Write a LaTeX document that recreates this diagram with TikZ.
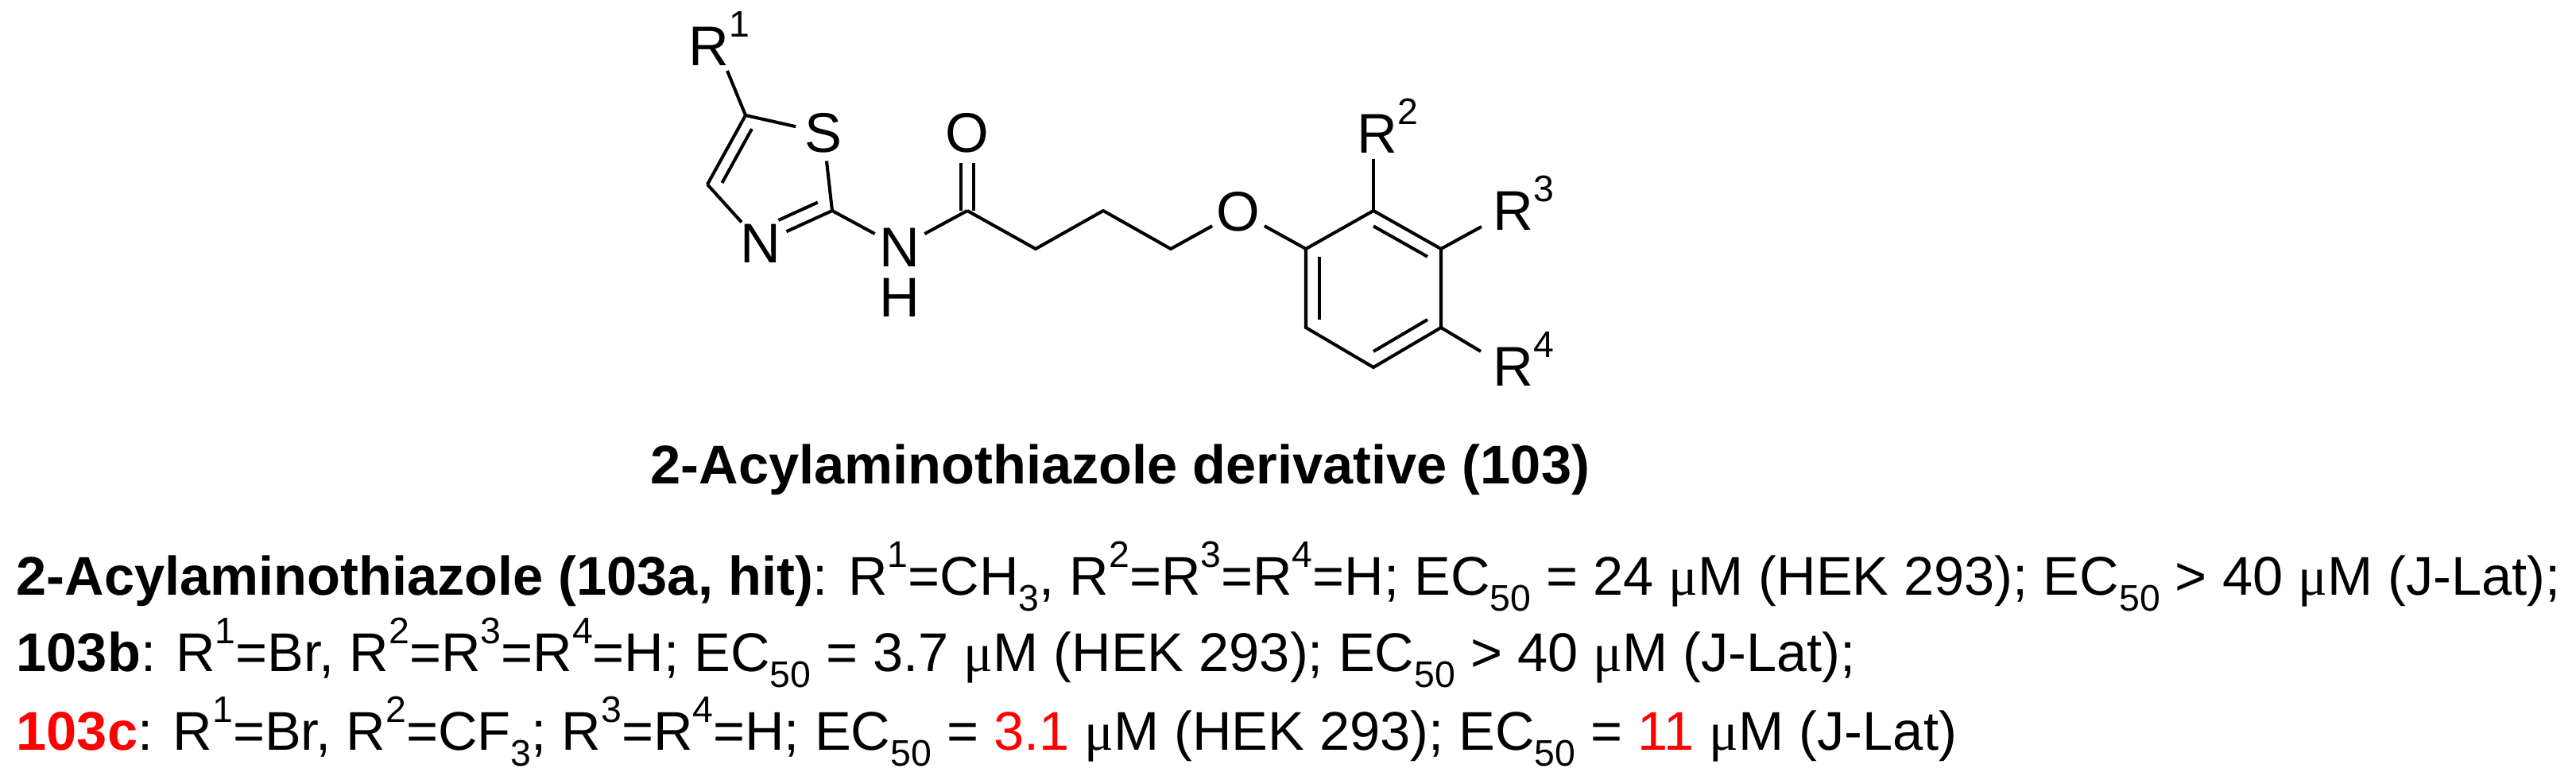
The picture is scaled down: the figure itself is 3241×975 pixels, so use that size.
\documentclass[tikz,border=0pt]{standalone}
\usepackage{fontspec}
\setmainfont{Liberation Sans}
\newfontfamily\mufont{Liberation Serif}
\usetikzlibrary{calc}
\newcommand\sps[1]{\raisebox{0.5em}{\fontsize{13.2}{13.2}\selectfont #1}}
\newcommand\sbs[1]{\raisebox{-0.3em}{\fontsize{13.2}{13.2}\selectfont #1}}
\newcommand\um{{\mufont μ}M}
\begin{document}
\begin{tikzpicture}[x=0.01cm,y=-0.01cm,
  bond/.style={line width=1.15pt,line cap=butt},
  atom/.style={circle,inner sep=0pt,minimum size=0.70cm,font=\fontsize{20}{23}\selectfont},
  rlab/.style={anchor=base west,inner sep=0pt,font=\fontsize{20}{23}\selectfont},
  txt/.style={anchor=base west,inner sep=0pt,font=\fontsize{19.5}{23}\selectfont}]
\useasboundingbox (0,0) rectangle (3241,975);
% thiazole
\coordinate (c5) at (938,145);
\coordinate (c4) at (890,232);
\coordinate (c2) at (1047,265);
\node[atom] (s) at (1036,167) {S};
\node[atom] (n3) at (957,306) {N};
\coordinate (tc) at (974,223);
\node[rlab] (r1) at (866,82) {R\sps{1}};
\coordinate (r1b) at (915,89);
\draw[bond] (c5) -- (r1b);
\draw[bond] (c5) -- (s);
\draw[bond] (s) -- (c2);
\draw[bond] (c2) -- (n3);
\draw[bond] (n3) -- (c4);
\draw[bond] (c4) -- (c5);
\draw[bond] ($(c4)!0.22!(tc)$) -- ($(c5)!0.22!(tc)$);
\draw[bond,shorten >=0.2cm] ($(c2)!0.25!(tc)$) -- ($(n3)!0.25!(tc)$);
% amide
\node[atom,minimum size=0.6cm] (nh) at (1132,311) {N};
\node[inner sep=0pt,font=\fontsize{20}{23}\selectfont] (h) at (1132,374) {H};
\coordinate (co) at (1217,265);
\node[atom] (o1) at (1217,167) {O};
\draw[bond] (c2) -- (nh);
\draw[bond] (nh) -- (co);
\draw[bond] ($(co)+(-8,0)$) -- ($(o1.south)+(-8,0)$);
\draw[bond] ($(co)+(8,0)$) -- ($(o1.south)+(8,0)$);
% chain
\coordinate (ca) at (1303,313);
\coordinate (cb) at (1388,265);
\coordinate (cc) at (1473,313);
\node[atom] (o2) at (1558,266) {O};
\draw[bond] (co) -- (ca) -- (cb) -- (cc) -- (o2);
% benzene
\coordinate (b1) at (1643,313);
\coordinate (b2) at (1728,265);
\coordinate (b3) at (1813,313);
\coordinate (b4) at (1813,412);
\coordinate (b5) at (1728,462);
\coordinate (b6) at (1643,412);
\coordinate (bc) at (1728,362);
\draw[bond] (o2) -- (b1);
\draw[bond,line join=miter] (b1) -- (b2) -- (b3) -- (b4) -- (b5) -- (b6) -- cycle;
\draw[bond] ($(b2)!0.2!(bc)$) -- ($(b3)!0.2!(bc)$);
\draw[bond] ($(b4)!0.2!(bc)$) -- ($(b5)!0.2!(bc)$);
\draw[bond] ($(b6)!0.2!(bc)$) -- ($(b1)!0.2!(bc)$);
\node[rlab] (r2) at (1707,192) {R\sps{2}};
\node[rlab] (r3) at (1878,289) {R\sps{3}};
\node[rlab] (r4) at (1878,485) {R\sps{4}};
\coordinate (r2b) at (1728,200);
\coordinate (r3b) at (1864,285);
\coordinate (r4b) at (1863,442);
\draw[bond] (b2) -- (r2b);
\draw[bond] (b3) -- (r3b);
\draw[bond] (b4) -- (r4b);
% texts
\node[txt] (title) at (818,608) {\textbf{2-Acylaminothiazole derivative (103)}};
\node[txt] (l1) at (20,748) {\textbf{2-Acylaminothiazole (103a, hit)}: R\sps{1}=CH\sbs{3}, R\sps{2}=R\sps{3}=R\sps{4}=H; EC\sbs{50} = 24 \um{} (HEK 293); EC\sbs{50} > 40 \um{} (J-Lat);};
\node[txt] (l2) at (20,844) {\textbf{103b}: R\sps{1}=Br, R\sps{2}=R\sps{3}=R\sps{4}=H; EC\sbs{50} = 3.7 \um{} (HEK 293); EC\sbs{50} > 40 \um{} (J-Lat);};
\node[txt] (l3) at (20,943) {\textcolor{red}{\textbf{103c}}: R\sps{1}=Br, R\sps{2}=CF\sbs{3}; R\sps{3}=R\sps{4}=H; EC\sbs{50} = \textcolor{red}{3.1} \um{} (HEK 293); EC\sbs{50} = \textcolor{red}{11} \um{} (J-Lat)};
\end{tikzpicture}
\end{document}
